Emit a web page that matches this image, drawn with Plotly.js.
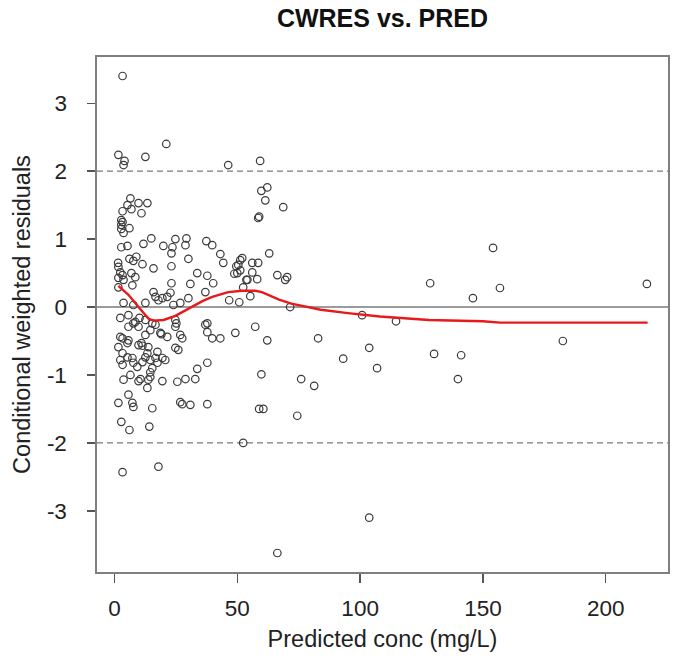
<!DOCTYPE html>
<html>
<head>
<meta charset="utf-8">
<script src="https://cdn.plot.ly/plotly-3.0.1.min.js"></script>
<style>html,body{margin:0;padding:0;background:#fff;}#chart{width:673px;height:663px;}</style>
</head>
<body>
<div id="chart"></div>
<script>
// Observed points: predicted concentration (mg/L) and CWRES
const pred = [
3.3,1.6,4.1,3.7,12.6,21.1,46.3,59.3,
62.2,59.8,61.4,68.7,58.5,58.9,
6.5,5.3,9.8,13.4,6.9,3.3,11.0,
2.8,2.8,2.8,3.7,6.1,3.3,
15.0,2.8,5.3,11.8,19.9,24.8,29.3,23.6,28.9,23.2,37.4,39.8,
6.1,8.9,7.7,30.1,11.4,
1.5,1.6,2.4,3.3,1.6,3.7,
15.9,23.2,6.9,8.5,33.7,37.8,23.2,30.9,7.3,1.6,37.0,15.9,16.7,22.8,21.5,19.5,17.9,30.1,26.8,24.0,3.7,7.7,12.6,40.2,43.1,44.3,
52.0,50.4,51.2,50.0,56.1,58.5,56.1,58.1,54.1,52.4,51.2,49.6,48.8,53.7,
63.0,66.3,70.3,69.5,46.7,50.8,55.3,71.5,
128.5,145.9,154.1,156.9,216.7,
2.4,5.7,5.7,8.5,9.8,12.6,12.6,14.6,16.7,18.7,24.8,24.8,26.8,27.6,37.0,37.8,39.8,43.1,57.3,62.2,
2.4,5.7,9.8,13.8,1.6,
7.7,10.2,15.4,25.2,49.2,37.8,
3.3,5.3,11.0,11.4,13.4,17.5,19.1,21.5,24.8,26.0,
3.3,2.4,3.3,5.3,7.3,7.7,9.3,11.4,12.6,14.6,16.7,17.5,19.5,20.7,15.4,14.6,
3.7,6.5,9.8,10.6,13.8,14.6,13.4,19.5,25.6,28.9,32.9,33.7,37.8,
5.7,7.3,7.7,1.6,15.4,26.8,27.6,30.9,37.8,
2.8,6.1,14.2,3.3,17.9,
59.8,76.0,81.3,58.9,60.6,74.4,52.4,
82.9,66.3,100.8,103.7,114.6,93.1,106.9,130.1,141.1,139.8,103.7,182.5
];
const cwres = [
3.40,2.24,2.15,2.09,2.21,2.40,2.09,2.15,
1.76,1.71,1.57,1.47,1.31,1.33,
1.60,1.50,1.53,1.53,1.44,1.41,1.38,
1.28,1.21,1.15,1.09,1.16,1.25,
1.01,0.88,0.90,0.93,0.90,1.00,1.01,0.88,0.91,0.79,0.97,0.91,
0.71,0.74,0.68,0.71,0.63,
0.65,0.59,0.51,0.47,0.43,0.40,
0.57,0.60,0.50,0.44,0.50,0.46,0.35,0.34,0.32,0.29,0.22,0.22,0.15,0.21,0.15,0.13,0.10,0.13,0.06,0.03,0.06,0.03,0.06,0.35,0.78,0.65,
0.72,0.62,0.54,0.50,0.65,0.65,0.51,0.41,0.40,0.29,0.69,0.60,0.49,0.40,
0.79,0.47,0.44,0.40,0.10,0.07,0.16,0.00,
0.35,0.13,0.87,0.28,0.34,
-0.16,-0.12,-0.29,-0.22,-0.29,-0.19,-0.41,-0.34,-0.26,-0.38,-0.19,-0.29,-0.41,-0.46,-0.26,-0.37,-0.46,-0.46,-0.29,-0.49,
-0.44,-0.49,-0.56,-0.59,-0.59,
-0.24,-0.16,-0.24,-0.24,-0.38,-0.24,
-0.46,-0.53,-0.53,-0.57,-0.68,-0.66,-0.40,-0.44,-0.60,-0.63,
-0.68,-0.78,-0.85,-0.74,-0.75,-0.82,-0.88,-0.81,-0.74,-0.78,-0.75,-0.82,-0.75,-0.78,-0.90,-0.96,
-1.07,-1.00,-1.09,-1.06,-1.07,-1.03,-1.19,-1.09,-1.10,-1.06,-1.06,-0.91,-0.82,
-1.29,-1.41,-1.47,-1.41,-1.49,-1.40,-1.43,-1.44,-1.43,
-1.69,-1.81,-1.76,-2.43,-2.35,
-0.99,-1.06,-1.16,-1.50,-1.50,-1.60,-2.00,
-0.46,-3.62,-0.12,-0.60,-0.21,-0.76,-0.90,-0.69,-0.71,-1.06,-3.10,-0.50
];
// Smoother (loess) curve
const smoothX = [1.6,5.7,9.8,13.8,15.9,20,24.8,28.9,32.9,36,39.8,46.3,52,57.3,60,63,67,72,78,84,95,108,128,150,157,217];
const smoothY = [0.31,0.18,0.00,-0.17,-0.20,-0.19,-0.13,-0.05,0.03,0.09,0.15,0.22,0.24,0.24,0.22,0.17,0.11,0.05,0.00,-0.04,-0.09,-0.14,-0.19,-0.21,-0.23,-0.23];
// Reference lines
const refSolid = [0];
const refDashed = [-2, 2];
const xTicks = [0, 50, 100, 150, 200];
const yTicks = [-3, -2, -1, 0, 1, 2, 3];

const shapes = [];
refSolid.forEach(v => shapes.push({type:'line', xref:'paper', x0:0, x1:1, yref:'y', y0:v, y1:v, line:{color:'#7a7a7a', width:1.6}, layer:'below'}));
refDashed.forEach(v => shapes.push({type:'line', xref:'paper', x0:0, x1:1, yref:'y', y0:v, y1:v, line:{color:'#7a7a7a', width:1.4, dash:'6px,4px'}, layer:'below'}));

const traces = [
  {x: pred, y: cwres, type:'scatter', mode:'markers', marker:{symbol:'circle-open', size:7.5, color:'#3a3a3a', line:{width:1.2, color:'#3a3a3a'}}},
  {x: smoothX, y: smoothY, type:'scatter', mode:'lines', line:{color:'#e8191a', width:2.4}}
];
const fam = 'Liberation Sans, Arial, sans-serif';
const font = {family:fam, size:22.5, color:'#222'};
const titleFont = {family:fam, size:23.5, color:'#222'};
const layout = {
  width:673, height:663,
  margin:{l:97, r:5, t:57, b:91},
  paper_bgcolor:'#fff', plot_bgcolor:'#fff',
  showlegend:false,
  font: font,
  title:{text:'<b>CWRES vs. PRED</b>', font:{family:fam, size:25, color:'#111'}, x:0.5, xref:'paper', xanchor:'center', y:0.973, yref:'container', yanchor:'middle'},
  xaxis:{range:[-7.1,225.3], tickvals:xTicks, ticktext:xTicks.map(String), ticks:'outside', ticklen:9, tickcolor:'#555', tickwidth:1.3,
    ticklabelstandoff:6,
    showline:true, mirror:true, linecolor:'#808080', linewidth:1.6, showgrid:false, zeroline:false,
    title:{text:'Predicted conc (mg/L)', font:titleFont, standoff:11}, tickfont:font},
  yaxis:{range:[-3.90,3.68], tickvals:yTicks, ticktext:yTicks.map(String), ticks:'outside', ticklen:8, tickcolor:'#555', tickwidth:1.3,
    ticklabelstandoff:16,
    showline:true, mirror:true, linecolor:'#808080', linewidth:1.6, showgrid:false, zeroline:false,
    title:{text:'Conditional weighted residuals', font:titleFont, standoff:9}, tickfont:font},
  shapes: shapes
};
Plotly.newPlot('chart', traces, layout, {displayModeBar:false, staticPlot:true});
</script>
</body>
</html>
